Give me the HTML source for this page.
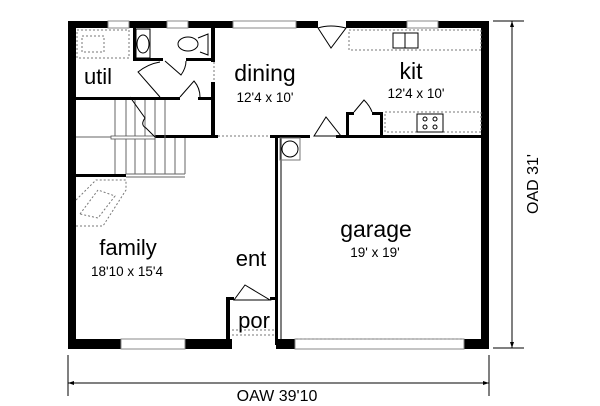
<!DOCTYPE html>
<html><head><style>
html,body{margin:0;padding:0;background:#fff;}
svg{display:block;}
text{font-family:"Liberation Sans",Arial,sans-serif;fill:#000;}
</style></head><body>
<svg width="600" height="406" viewBox="0 0 600 406" xmlns="http://www.w3.org/2000/svg">
<g fill="#000">
<rect x="68" y="21" width="40" height="7"/>
<rect x="129" y="21" width="38" height="7"/>
<rect x="188" y="21" width="45" height="7"/>
<rect x="296" y="21" width="22" height="7"/>
<rect x="346" y="21" width="61" height="7"/>
<rect x="438" y="21" width="51" height="7"/>
<rect x="68" y="21" width="8" height="328"/>
<rect x="481" y="21" width="8" height="328"/>
<rect x="68" y="339" width="53" height="10"/>
<rect x="185" y="339" width="47" height="10"/>
<rect x="276" y="339" width="19" height="10"/>
<rect x="464" y="339" width="25" height="10"/>
<rect x="133" y="28" width="3" height="33"/>
<rect x="133" y="58" width="30" height="3"/>
<rect x="186" y="58" width="28" height="3"/>
<rect x="211" y="28" width="4" height="34"/>
<rect x="211" y="82" width="4" height="55"/>
<rect x="76" y="97" width="104" height="3"/>
<rect x="198" y="97" width="16" height="3"/>
<rect x="155" y="135" width="63" height="3"/>
<rect x="270" y="135" width="40" height="3"/>
<rect x="336" y="135" width="145" height="3"/>
<rect x="76" y="174" width="50" height="3"/>
<rect x="275" y="135" width="3" height="210"/>
<rect x="226" y="297" width="4" height="48"/>
<rect x="226" y="297" width="8" height="3"/>
<rect x="270" y="297" width="6" height="3"/>
<rect x="346" y="112" width="3" height="24"/>
<rect x="346" y="112" width="8" height="3"/>
<rect x="380" y="112" width="3" height="24"/>
<rect x="372" y="112" width="10" height="3"/>
</g>
<line x1="281" y1="138" x2="281" y2="345" stroke="#000" stroke-width="1"/>
<g fill="#fff" stroke="#888" stroke-width="1">
<rect x="108" y="21" width="21" height="7"/>
<rect x="167" y="21" width="21" height="7"/>
<rect x="233" y="21" width="63" height="7"/>
<rect x="407" y="21" width="31" height="7"/>
<rect x="121" y="339" width="64" height="10"/>
<rect x="295" y="339" width="169" height="10"/>
</g>
<g fill="none" stroke="#777" stroke-width="1" stroke-dasharray="2,2">
<rect x="77" y="30" width="52" height="28"/>
<rect x="82" y="36" width="22" height="16"/>
<rect x="349" y="30" width="132" height="20"/>
<rect x="385" y="112" width="96" height="20"/>
<line x1="218" y1="136" x2="270" y2="136"/>
<line x1="214" y1="62" x2="214" y2="82"/>
<path d="M76 200 L96 180 L126 180 L126 190 L103 226 L76 226"/>
<path d="M80 214 L98 190 L115 196 L98 218 Z"/>
<line x1="232" y1="330" x2="275" y2="330"/>
<line x1="232" y1="335" x2="275" y2="335"/>
<line x1="296" y1="339" x2="464" y2="339"/>
</g>
<g stroke="#666" stroke-width="1">
<line x1="115" y1="100" x2="115" y2="174"/>
<line x1="126" y1="100" x2="126" y2="174"/>
<line x1="135" y1="100" x2="135" y2="174"/>
<line x1="145" y1="100" x2="145" y2="174"/>
<line x1="155" y1="100" x2="155" y2="174"/>
<line x1="165" y1="100" x2="165" y2="174"/>
<line x1="175" y1="138" x2="175" y2="174"/>
<line x1="185" y1="138" x2="185" y2="174"/>
<line x1="76" y1="137" x2="155" y2="137"/>
<line x1="126" y1="174" x2="185" y2="174"/>
<line x1="126" y1="177" x2="185" y2="177"/>
</g>
<rect x="111" y="136" width="44" height="3" fill="#fff" stroke="#555" stroke-width="0.8"/>
<path d="M130 97 L145 118 Q140 125 146 128 L155 137" fill="none" stroke="#000" stroke-width="1"/>
<g fill="none" stroke="#000" stroke-width="1">
<rect x="136" y="29" width="14" height="29"/>
<ellipse cx="143" cy="44" rx="6" ry="9"/>
<ellipse cx="188" cy="44" rx="10" ry="7"/>
<path d="M198 38 L208 34 L208 55 L200 52"/>
<rect x="393" y="33" width="25" height="15"/>
<line x1="405" y1="33" x2="405" y2="48"/>
<rect x="417" y="114" width="26" height="18"/>
<circle cx="425" cy="119" r="2"/><circle cx="435" cy="119" r="2"/>
<circle cx="425" cy="127" r="2"/><circle cx="435" cy="127" r="2"/>
<rect x="280" y="138" width="20" height="22" stroke="#777"/>
<circle cx="290" cy="149" r="8"/>
<path d="M165 61 L181 75 Q186 68 186 61"/>
<path d="M160 97 L138 72 Q148 64 160 62"/>
<path d="M180 97 L194 81 Q200 88 200 97"/>
<path d="M318 28 L331 48 L346 28 Q330 24 318 28"/>
<path d="M314 136 L326 117 L341 136 Z"/>
<path d="M354 112 L364 100 Q370 106 372 112"/>
<path d="M234 300 L245 285 L270 300 Z"/>
</g>
<text x="98" y="84" font-size="22" text-anchor="middle">util</text>
<text x="265" y="81" font-size="23" text-anchor="middle">dining</text>
<text x="265" y="102" font-size="13.5" text-anchor="middle">12'4 x 10'</text>
<text x="411" y="79" font-size="23" text-anchor="middle">kit</text>
<text x="416" y="98" font-size="13.5" text-anchor="middle">12'4 x 10'</text>
<text x="128" y="255" font-size="22" text-anchor="middle">family</text>
<text x="127" y="276" font-size="13.5" text-anchor="middle">18'10 x 15'4</text>
<text x="251" y="266" font-size="22" text-anchor="middle">ent</text>
<text x="254" y="328" font-size="22" text-anchor="middle">por</text>
<text x="376" y="237" font-size="23" text-anchor="middle">garage</text>
<text x="375" y="257" font-size="13.5" text-anchor="middle">19' x 19'</text>
<g stroke="#000" stroke-width="1" fill="none">
<line x1="68" y1="355" x2="68" y2="396"/>
<line x1="489" y1="355" x2="489" y2="396"/>
<line x1="68" y1="383" x2="489" y2="383"/>
<line x1="493" y1="21" x2="524" y2="21"/>
<line x1="493" y1="348" x2="524" y2="348"/>
<line x1="512" y1="21" x2="512" y2="348"/>
</g>
<g fill="#000">
<path d="M68 383 L74 381 L74 385 Z"/>
<path d="M489 383 L483 381 L483 385 Z"/>
<path d="M512 21 L510 27 L514 27 Z"/>
<path d="M512 348 L510 342 L514 342 Z"/>
</g>
<text x="277" y="401" font-size="16" text-anchor="middle">OAW 39'10</text>
<text x="0" y="0" font-size="16" text-anchor="middle" transform="translate(538,184) rotate(-90)">OAD 31'</text>
</svg>
</body></html>
